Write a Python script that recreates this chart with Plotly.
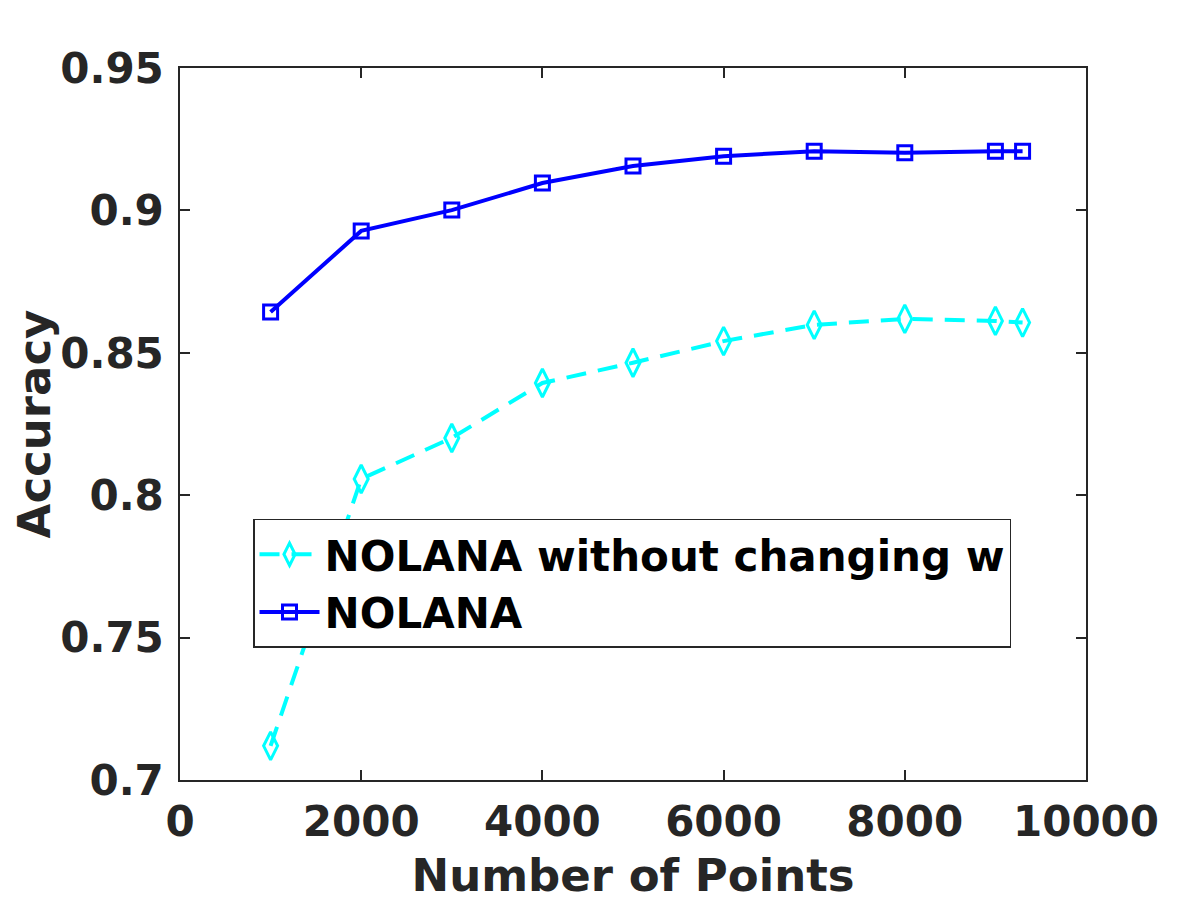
import plotly.graph_objs as go

# Data
num_points = [1000, 2000, 3000, 4000, 5000, 6000, 7000, 8000, 9000, 9300]
acc_nolana = [0.8643, 0.8928, 0.9001, 0.9096, 0.9156, 0.9190, 0.9208, 0.9202, 0.9208, 0.9208]
acc_no_w = [0.7120, 0.8057, 0.8201, 0.8394, 0.8465, 0.8541, 0.8598, 0.8619, 0.8612, 0.8606]

y_ticks = [0.7, 0.75, 0.8, 0.85, 0.9, 0.95]
y_labels = ['0.7', '0.75', '0.8', '0.85', '0.9', '0.95']
x_ticks = [0, 2000, 4000, 6000, 8000, 10000]
x_labels = ['0', '2000', '4000', '6000', '8000', '10000']

traces = [
    go.Scatter(
        x=num_points, y=acc_no_w,
        mode='markers+lines',
        name='NOLANA without changing w',
        line=dict(color='#00FFFF', width=4, dash='20px,12px'),
        marker=dict(symbol='diamond-tall-open', size=20, color='#00FFFF',
                    line=dict(width=3, color='#00FFFF')),
    ),
    go.Scatter(
        x=num_points, y=acc_nolana,
        mode='markers+lines',
        name='NOLANA',
        line=dict(color='#0000FF', width=4),
        marker=dict(symbol='square-open', size=14, color='#0000FF',
                    line=dict(width=3, color='#0000FF')),
    ),
]

tick_font = dict(family='DejaVu Sans', size=42, color='#262626', weight='bold')
title_font = dict(family='DejaVu Sans', size=45, color='#262626', weight='bold')
axis_common = dict(
    showgrid=False, zeroline=False, automargin=False,
    showline=True, linecolor='#262626', linewidth=1.5, mirror='all',
    ticks='inside', ticklen=10, tickcolor='#262626', tickwidth=1.5,
    tickfont=tick_font,
)

layout = go.Layout(
    width=1200, height=900,
    margin=dict(l=172, r=122, t=60, b=128),
    font=dict(family='DejaVu Sans', size=40, color='#262626'),
    paper_bgcolor='white',
    plot_bgcolor='white',
    xaxis=dict(range=[0, 10000], tickvals=x_ticks, ticktext=x_labels,
               ticklabelstandoff=4,
               title=dict(text='Number of Points', font=title_font, standoff=14),
               **axis_common),
    yaxis=dict(range=[0.7, 0.95], tickvals=y_ticks, ticktext=y_labels,
               ticklabelstandoff=6,
               title=dict(text='Accuracy', font=title_font, standoff=14),
               **axis_common),
    legend=dict(x=0.0806, y=0.3666, xanchor='left', yanchor='top',
                bgcolor='white', bordercolor='#262626', borderwidth=1.5,
                itemwidth=60, tracegroupgap=0,
                font=dict(family='DejaVu Sans', size=42, color='black', weight='bold')),
    showlegend=True,
)

fig = go.Figure(data=traces, layout=layout)
fig.write_html('out.html')
